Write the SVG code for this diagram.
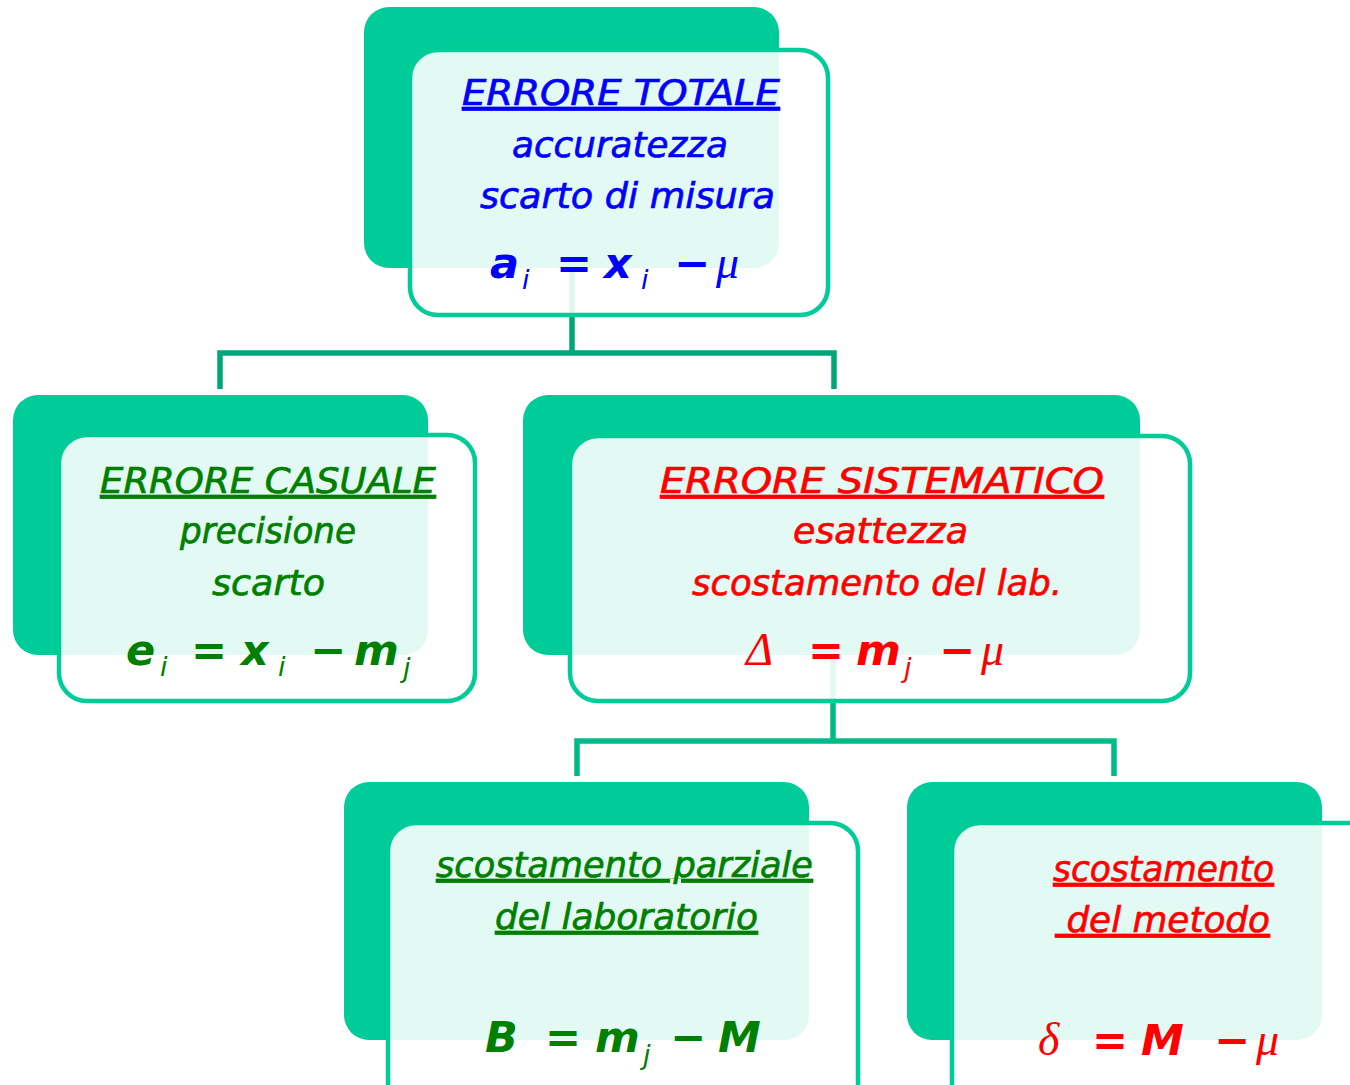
<svg xmlns="http://www.w3.org/2000/svg" width="1350" height="1085" viewBox="0 0 1350 1085">
<style>
.back{fill:#00CC99}
.front{fill:#FFFFFF;fill-opacity:0.89;stroke:#00CC99;stroke-width:4.5}
.lbl{font-family:"DejaVu Sans","Liberation Sans",sans-serif;font-style:italic;font-size:36px;stroke-width:0.7}
.ttl{text-decoration:underline}
.frm{font-family:"DejaVu Sans","Liberation Sans",sans-serif;font-style:italic;font-weight:bold;font-size:43px}
.sub{font-size:27px;font-weight:normal}
.sym{font-family:"Liberation Serif","DejaVu Serif",serif;font-style:italic;font-weight:normal;font-size:46px}
.blue{fill:#0000FF}
.green{fill:#007F00}
.red{fill:#FF0000}
.lbl.blue{stroke:#0000FF}
.lbl.green{stroke:#007F00}
.lbl.red{stroke:#FF0000}
.c1{fill:none;stroke:#00A67A;stroke-width:5.5}
.c2{fill:none;stroke:#00BB88;stroke-width:5.5}
</style>
<rect width="1350" height="1085" fill="#FFFFFF"/>
<g id="connectors">
<path class="c1" d="M572,250 V353 M220,389 V353 H834 V389"/>
<path class="c2" d="M833,640 V741 M577,776 V741 H1114 V776"/>
</g>
<g id="errore-totale">
<rect class="back" x="364" y="7" width="415" height="261" rx="25"/>
<rect class="front" x="410" y="50" width="418" height="265" rx="28"/>
<text class="lbl ttl blue" x="462" y="105" textLength="318" lengthAdjust="spacingAndGlyphs">ERRORE TOTALE</text>
<text class="lbl blue" x="512" y="157" textLength="216" lengthAdjust="spacingAndGlyphs">accuratezza</text>
<text class="lbl blue" x="480" y="208" textLength="295" lengthAdjust="spacingAndGlyphs">scarto di misura</text>
<text class="frm blue" y="278"><tspan x="490">a</tspan><tspan class="sub" x="522" dy="11">i</tspan><tspan x="556" dy="-11">=</tspan><tspan x="604">x</tspan><tspan class="sub" x="641" dy="11">i</tspan><tspan x="674" dy="-11">−</tspan><tspan class="sym" x="716">μ</tspan></text>
</g>
<g id="errore-casuale">
<rect class="back" x="13" y="395" width="415" height="260" rx="25"/>
<rect class="front" x="59" y="435" width="416" height="266" rx="28"/>
<text class="lbl ttl green" x="100" y="493" textLength="336" lengthAdjust="spacingAndGlyphs">ERRORE CASUALE</text>
<text class="lbl green" x="180" y="543" textLength="176" lengthAdjust="spacingAndGlyphs">precisione</text>
<text class="lbl green" x="212" y="595" textLength="113" lengthAdjust="spacingAndGlyphs">scarto</text>
<text class="frm green" y="665"><tspan x="126">e</tspan><tspan class="sub" x="160" dy="11">i</tspan><tspan x="191" dy="-11">=</tspan><tspan x="241">x</tspan><tspan class="sub" x="278" dy="11">i</tspan><tspan x="310" dy="-11">−</tspan><tspan x="354">m</tspan><tspan class="sub" x="403" dy="12">j</tspan></text>
</g>
<g id="errore-sistematico">
<rect class="back" x="523" y="395" width="617" height="260" rx="25"/>
<rect class="front" x="570" y="436" width="620" height="265" rx="28"/>
<text class="lbl ttl red" x="660" y="493" textLength="444" lengthAdjust="spacingAndGlyphs">ERRORE SISTEMATICO</text>
<text class="lbl red" x="793" y="543" textLength="175" lengthAdjust="spacingAndGlyphs">esattezza</text>
<text class="lbl red" x="692" y="595" textLength="370" lengthAdjust="spacingAndGlyphs">scostamento del lab.</text>
<text class="frm red" y="665"><tspan class="sym" x="746">Δ</tspan><tspan x="808">=</tspan><tspan x="856">m</tspan><tspan class="sub" x="904" dy="12">j</tspan><tspan x="939" dy="-12">−</tspan><tspan class="sym" x="981">μ</tspan></text>
</g>
<g id="scostamento-parziale">
<rect class="back" x="344" y="782" width="465" height="258" rx="25"/>
<rect class="front" x="388" y="823" width="470" height="300" rx="28"/>
<text class="lbl ttl green" x="436" y="877" textLength="377" lengthAdjust="spacingAndGlyphs">scostamento parziale</text>
<text class="lbl ttl green" x="495" y="929" textLength="263" lengthAdjust="spacingAndGlyphs">del laboratorio</text>
<text class="frm green" y="1052"><tspan x="485">B</tspan><tspan x="545">=</tspan><tspan x="595">m</tspan><tspan class="sub" x="643" dy="12">j</tspan><tspan x="670" dy="-12">−</tspan><tspan x="718">M</tspan></text>
</g>
<g id="scostamento-metodo">
<rect class="back" x="907" y="782" width="415" height="258" rx="25"/>
<rect class="front" x="952" y="823" width="440" height="300" rx="28"/>
<text class="lbl ttl red" x="1053" y="881" textLength="221" lengthAdjust="spacingAndGlyphs">scostamento</text>
<text class="lbl ttl red" x="1055" y="932" textLength="215" lengthAdjust="spacingAndGlyphs" xml:space="preserve"> del metodo</text>
<text class="frm red" y="1055"><tspan class="sym" x="1038">δ</tspan><tspan x="1092">=</tspan><tspan x="1141">M</tspan><tspan x="1214">−</tspan><tspan class="sym" x="1256">μ</tspan></text>
</g>
</svg>
